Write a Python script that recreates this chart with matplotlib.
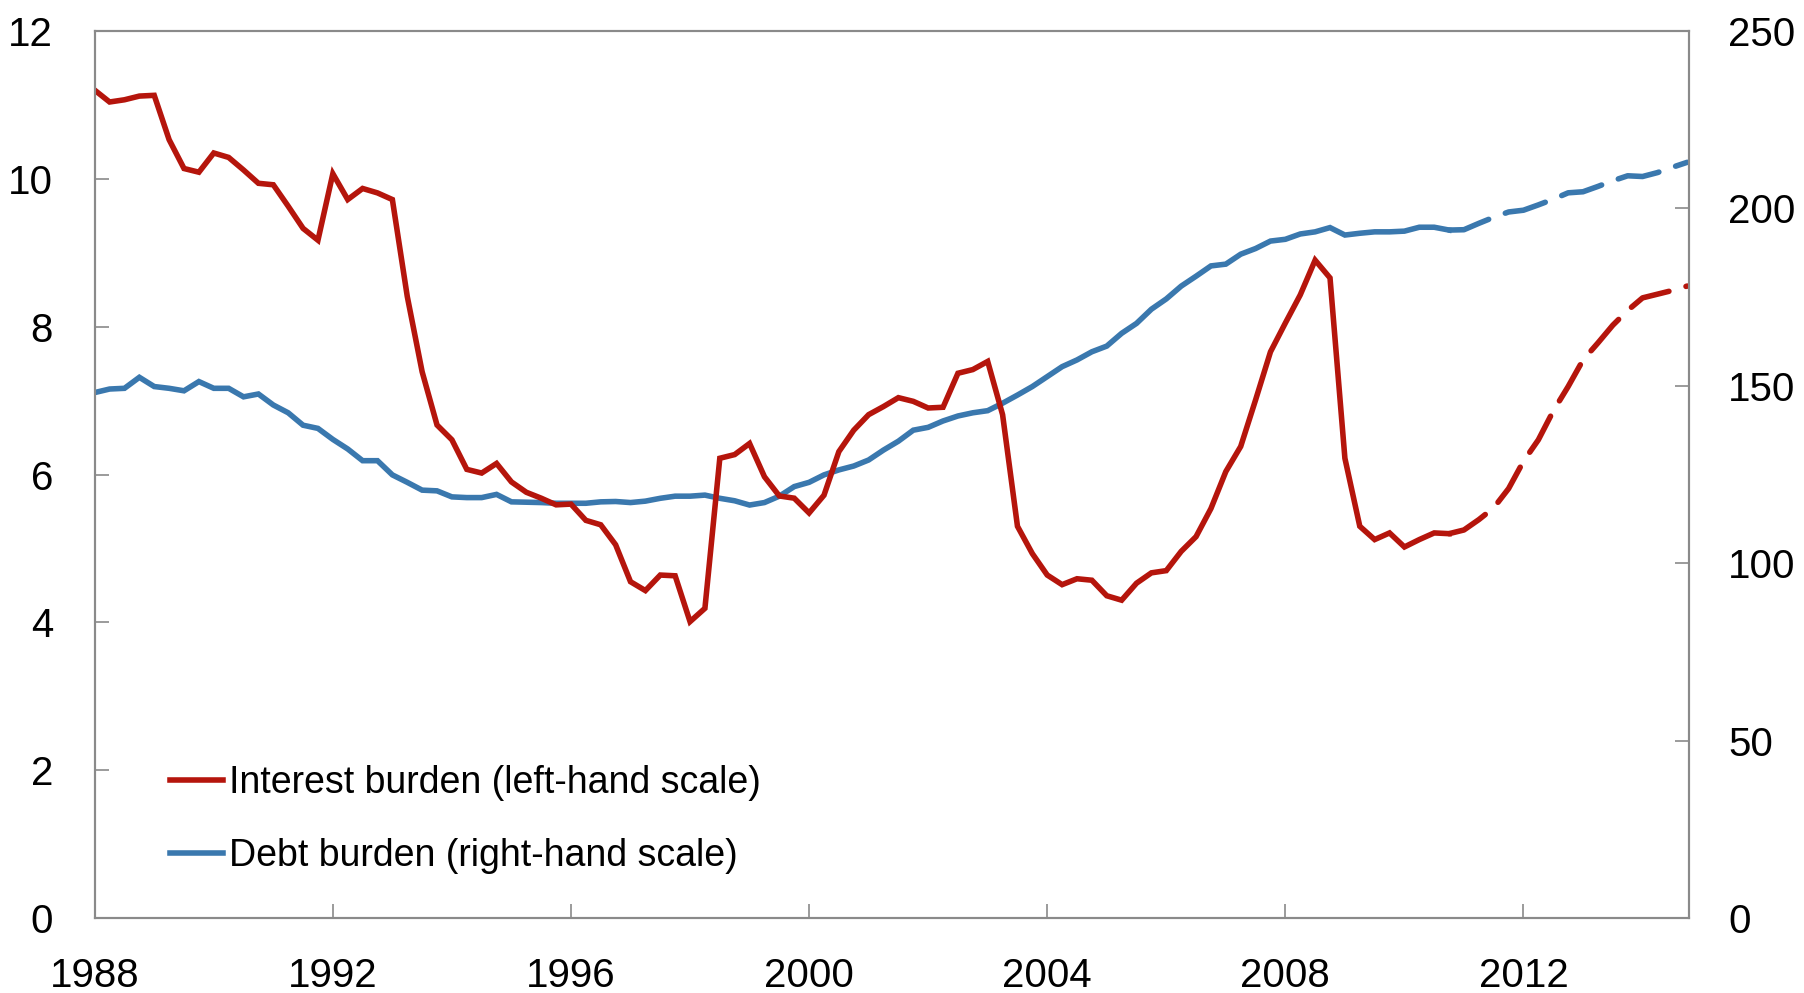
import matplotlib
matplotlib.use("Agg")
import matplotlib.pyplot as plt
from matplotlib.lines import Line2D
import numpy as np

plt.rcParams['font.family'] = ['Liberation Sans', 'DejaVu Sans']

# Quarterly data, 1988Q1 - 2014Q4 (projections from 2011Q1)
start_year = 1988
interest_burden = [
    11.20, 11.04, 11.07, 11.12, 11.13, 10.53, 10.14, 10.09, 10.35, 10.29, 10.12, 9.94, 9.92, 9.63, 9.33, 9.17, 10.07, 9.72,
    9.87, 9.81, 9.72, 8.41, 7.39, 6.67, 6.47, 6.07, 6.02, 6.15, 5.90, 5.76, 5.68, 5.59, 5.60, 5.38, 5.32, 5.05,
    4.55, 4.43, 4.64, 4.63, 4.01, 4.19, 6.22, 6.27, 6.42, 5.97, 5.71, 5.68, 5.48, 5.72, 6.31, 6.60, 6.81, 6.92,
    7.04, 6.99, 6.90, 6.91, 7.37, 7.42, 7.53, 6.81, 5.30, 4.93, 4.64, 4.51, 4.59, 4.57, 4.36, 4.30, 4.53, 4.67,
    4.70, 4.96, 5.16, 5.54, 6.04, 6.38, 7.01, 7.66, 8.05, 8.43, 8.90, 8.66, 6.22, 5.30, 5.12, 5.21, 5.02, 5.12, 5.21, 5.20,
    5.25, 5.39, 5.55, 5.81, 6.18, 6.47, 6.86, 7.19, 7.55, 7.78, 8.02, 8.22, 8.39, 8.44, 8.49, 8.55,
]
debt_burden = [
    148.1, 149.1, 149.3, 152.4, 149.8, 149.3, 148.6, 151.2, 149.3, 149.3, 146.9, 147.7, 144.6, 142.4, 138.9, 138.0, 134.9, 132.2,
    128.9, 128.9, 124.9, 122.8, 120.6, 120.4, 118.7, 118.5, 118.5, 119.4, 117.3, 117.2, 117.1, 116.9, 116.9, 116.9, 117.3, 117.4,
    117.1, 117.5, 118.3, 118.9, 118.9, 119.2, 118.3, 117.6, 116.4, 117.1, 118.9, 121.6, 122.8, 124.9, 126.3, 127.4, 129.1, 131.9,
    134.4, 137.5, 138.3, 140.1, 141.5, 142.4, 143.0, 145.1, 147.4, 149.8, 152.6, 155.4, 157.3, 159.6, 161.2, 164.8, 167.6, 171.6,
    174.5, 178.1, 180.9, 183.8, 184.3, 187.1, 188.7, 190.8, 191.3, 192.8, 193.4, 194.6, 192.5, 193.0, 193.4, 193.4, 193.6, 194.7, 194.7, 193.9,
    194.0, 195.8, 197.5, 199.0, 199.5, 201.0, 202.6, 204.4, 204.7, 206.2, 207.8, 209.2, 209.0, 210.1, 211.6, 213.0,
]
last_actual = 91  # index of 2010Q4, last observed quarter

x_ticks = [1988, 1992, 1996, 2000, 2004, 2008, 2012]
left_ticks = [0, 2, 4, 6, 8, 10, 12]
right_ticks = [0, 50, 100, 150, 200, 250]
label_interest = "Interest burden (left-hand scale)"
label_debt = "Debt burden (right-hand scale)"

red = "#B5150C"
blue = "#3A78AE"
grey = "#8A8A8A"

t = np.array([start_year + i / 4 for i in range(len(interest_burden))])
ib = np.array(interest_burden)
db = np.array(debt_burden)

fig = plt.figure(figsize=(18.04, 9.93), dpi=100)
ax = fig.add_axes([0.0525, 0.0755, 0.88375, 0.89325])
ax2 = ax.twinx()

lw = 4.0
dash = (7.5, 3.2)
ax2.plot(t[:last_actual + 1], db[:last_actual + 1], color=blue, lw=lw, solid_joinstyle='miter')
ax2.plot(t[last_actual:], db[last_actual:], color=blue, lw=lw, dashes=dash, dash_capstyle='round')
ax.plot(t[:last_actual + 1], ib[:last_actual + 1], color=red, lw=lw, solid_joinstyle='miter')
ax.plot(t[last_actual:], ib[last_actual:], color=red, lw=lw, dashes=dash, dash_capstyle='round')
ax.set_zorder(ax2.get_zorder() + 1)
ax.patch.set_visible(False)

ax.set_xlim(1988, 2014.78)
ax.set_ylim(0, 12)
ax2.set_ylim(0, 250)
ax.set_xticks(x_ticks)
ax.set_xticklabels([str(v) for v in x_ticks])
ax.set_yticks(left_ticks)
ax.set_yticklabels([str(v) for v in left_ticks])
ax2.set_yticks(right_ticks)
ax2.set_yticklabels([str(v) for v in right_ticks])

fs = 29
for a in (ax, ax2):
    for s in a.spines.values():
        s.set_color(grey)
        s.set_linewidth(1.5)
ax.tick_params(axis='x', direction='in', length=10, width=1.2, color=grey, pad=28, labelsize=fs)
ax.tick_params(axis='y', direction='in', length=10, width=1.2, color=grey, pad=30, labelsize=fs)
ax2.tick_params(axis='y', direction='in', length=10, width=1.2, color=grey, pad=28, labelsize=fs)

lfs = 27
handles = [Line2D([], [], color=red, lw=lw), Line2D([], [], color=blue, lw=lw)]
ax.legend(handles, [label_interest, label_debt], loc='center left', bbox_to_anchor=(0.047, 0.111),
          frameon=False, fontsize=lfs, handlelength=1.42, handletextpad=0.17, labelspacing=0.98,
          borderpad=0, borderaxespad=0)

fig.savefig("out.png", dpi=100)
